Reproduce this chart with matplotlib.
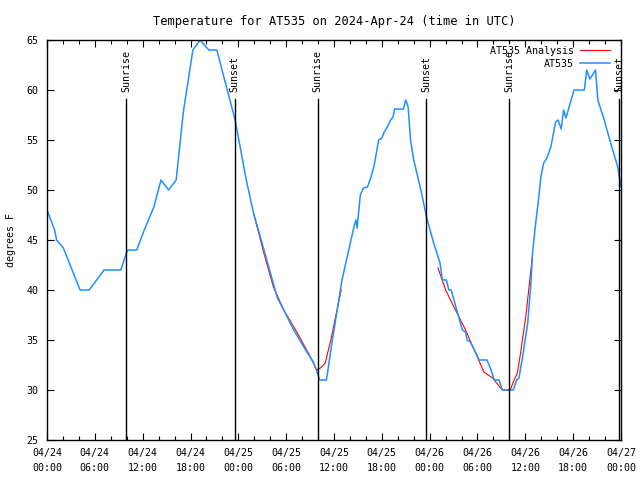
import matplotlib
matplotlib.use("Agg")
import matplotlib.pyplot as plt

# hours since 2024-04-24 00:00 UTC
obs_hours = [0.0, 0.95, 1.2, 2.05, 4.15, 5.3, 7.15, 9.25, 10.1, 11.25, 12.2, 13.4,
             14.3, 15.25, 16.2, 17.1, 18.3, 19.2, 20.3, 21.3, 23.6, 25.0, 25.9, 26.8,
             28.9, 29.7, 30.95, 32.6, 33.4, 33.8, 34.2, 35.05, 35.7, 37.0, 38.5, 38.75,
             38.9, 39.3, 39.7, 40.2, 40.6, 41.0, 41.6, 42.0, 42.3, 42.7, 43.1, 43.4,
             43.6, 44.7, 45.0, 45.3, 45.6, 46.0, 46.9, 47.6, 48.5, 49.3, 49.6, 50.1,
             50.4, 50.7, 51.5, 52.1, 52.5, 52.7, 53.1, 53.8, 54.2, 55.2, 55.7, 56.1,
             56.7, 57.1, 58.5, 58.9, 59.2, 59.65, 60.3, 60.7, 60.9, 61.3, 61.6, 61.95,
             62.3, 62.7, 63.2, 63.8, 64.1, 64.5, 64.8, 65.1, 66.1, 67.4, 67.7, 68.1,
             68.8, 69.1, 69.9, 70.7, 71.6, 72.0]
obs_temp = [48, 46, 45, 44.2, 40, 40, 42, 42, 44, 44, 46, 48.3,
            51, 50, 51, 57.8, 64, 65, 64, 64, 57, 51, 47.7, 45.2,
            39.2, 38, 36, 33.8, 32.8, 32, 31, 31, 34.5, 41, 46.3, 47,
            46.2, 49.5, 50.2, 50.3, 51.2, 52.3, 55, 55.2, 55.8, 56.3, 57, 57.3,
            58.1, 58.1, 59, 58.3, 55, 53, 50, 47.3, 44.7, 42.7, 41, 41,
            40, 40, 37.7, 36, 35.8, 35, 34.8, 33.7, 33, 33, 32, 31,
            31, 30, 30, 31, 31.2, 33.3, 36.7, 40.7, 43.7, 46.7, 48.7, 51.3,
            52.7, 53.2, 54.3, 56.8, 57, 56.1, 58, 57.2, 60, 60, 62, 61.1,
            62, 59, 57, 54.7, 52.3, 50.3]

ana1_hours = [25.9, 27.2, 28.4, 29.7, 31.4, 33.05, 33.8, 34.3, 34.9, 35.6, 36.3, 36.9]
ana1_temp = [47.7, 43.7, 40.3, 38, 35.7, 33.3, 32, 32.2, 32.7, 35, 37.7, 40]
ana2_hours = [49.05, 50.0, 51.05, 52.5, 53.6, 54.8, 55.9, 56.9, 57.3, 58.1, 58.6,
              59.0, 59.4, 60.05, 60.6, 60.9]
ana2_temp = [42.2, 40, 38.3, 36, 34, 31.8, 31.2, 30.2, 30, 30, 31,
             31.7, 33.7, 37.3, 41.3, 43.5]

sun_hours = [9.9, 23.55, 33.95, 47.6, 57.95, 71.8]
sun_labels = ["Sunrise", "Sunset", "Sunrise", "Sunset", "Sunrise", "Sunset"]

tick_hours = list(range(0, 73, 6))
tick_labels = ["04/24\n00:00", "04/24\n06:00", "04/24\n12:00", "04/24\n18:00",
               "04/25\n00:00", "04/25\n06:00", "04/25\n12:00", "04/25\n18:00",
               "04/26\n00:00", "04/26\n06:00", "04/26\n12:00", "04/26\n18:00",
               "04/27\n00:00"]

plt.rcParams["font.family"] = "DejaVu Sans Mono"
plt.rcParams["font.size"] = 7.2

fig = plt.figure(figsize=(6.4, 4.8), dpi=100)
ax = fig.add_axes([47 / 640, 40 / 480, 574 / 640, 400 / 480])

ax.plot(ana1_hours, ana1_temp, color="red", lw=0.8, label="AT535 Analysis")
ax.plot(ana2_hours, ana2_temp, color="red", lw=0.8)
ax.plot(obs_hours, obs_temp, color="#1E90FF", lw=1.1, label="AT535")

for h, lab in zip(sun_hours, sun_labels):
    ax.plot([h, h], [25, 59.1], color="black", lw=1.0)
    ax.text(h, 59.8, lab, rotation=90, ha="center", va="bottom")

ax.set_xlim(0, 72)
ax.set_ylim(25, 65)
ax.set_xticks(tick_hours)
ax.set_xticklabels(tick_labels, linespacing=1.6)
ax.set_xticks(range(0, 73, 2), minor=True)
ax.set_yticks(range(25, 66, 5))
ax.tick_params(which="both", direction="in", top=True, right=True, width=0.8)
ax.tick_params(which="major", length=5, pad=6)
ax.tick_params(which="minor", length=3)
for s in ax.spines.values():
    s.set_linewidth(1.0)

ax.set_ylabel("degrees F", labelpad=8)
ax.set_title("Temperature for AT535 on 2024-Apr-24 (time in UTC)", pad=11)

ax.legend(loc="upper right", bbox_to_anchor=(1 - 5 / 574, 1), frameon=False,
          markerfirst=False, handlelength=3.0, borderaxespad=0.2,
          labelspacing=0.3, handletextpad=0.6)

fig.savefig("out.png", dpi=100)
